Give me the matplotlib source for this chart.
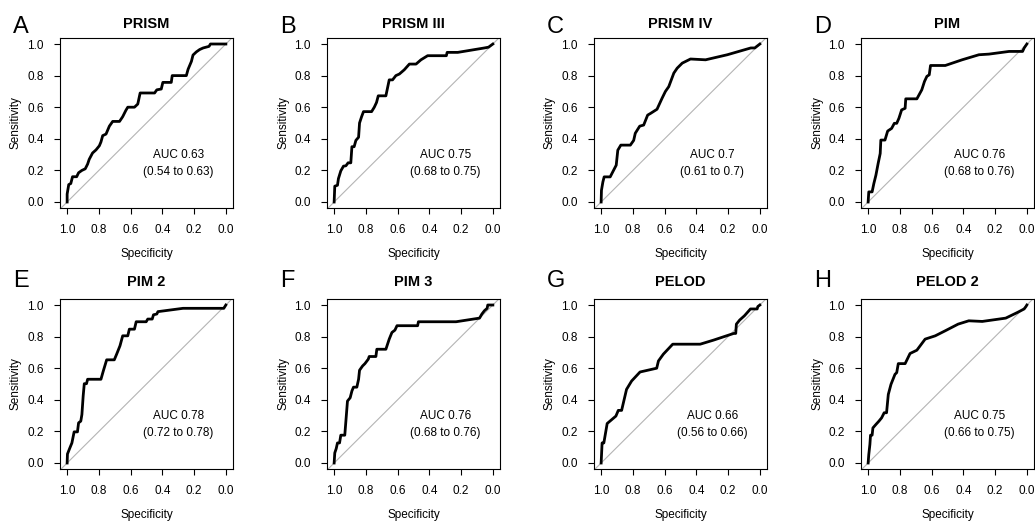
import matplotlib
matplotlib.use("Agg")
from matplotlib import pyplot as plt

plt.rcParams['font.family'] = ['Liberation Sans', 'DejaVu Sans']

# ---- data (specificity, sensitivity) ----
spec_A = [1.0, 1.0, 0.99, 0.977, 0.966, 0.94, 0.928, 0.907, 0.886, 0.871, 0.861, 0.84, 0.818, 0.797,
          0.787, 0.776, 0.755, 0.734, 0.713, 0.67, 0.65, 0.63, 0.618, 0.576, 0.555, 0.54, 0.449, 0.435,
          0.407, 0.397, 0.344, 0.338, 0.249, 0.238, 0.217, 0.207, 0.186, 0.165, 0.143, 0.106, 0.097, 0.0]
sens_A = [0.0, 0.05, 0.11, 0.117, 0.16, 0.16, 0.185, 0.20, 0.21, 0.24, 0.27, 0.31, 0.33, 0.356,
          0.38, 0.42, 0.43, 0.48, 0.51, 0.51, 0.54, 0.58, 0.60, 0.60, 0.62, 0.69, 0.69, 0.71,
          0.715, 0.757, 0.757, 0.80, 0.80, 0.84, 0.89, 0.93, 0.95, 0.965, 0.975, 0.985, 1.0, 1.0]

spec_B = [1.0, 0.996, 0.979, 0.973, 0.958, 0.941, 0.926, 0.912, 0.895, 0.888, 0.874, 0.863, 0.846,
          0.84, 0.827, 0.815, 0.764, 0.747, 0.733, 0.722, 0.674, 0.653, 0.632, 0.611, 0.589, 0.558,
          0.526, 0.484, 0.453, 0.411, 0.293, 0.288, 0.221, 0.053, 0.027, 0.0]
sens_B = [0.0, 0.10, 0.106, 0.148, 0.197, 0.227, 0.229, 0.248, 0.248, 0.35, 0.35, 0.39, 0.41,
          0.50, 0.54, 0.572, 0.572, 0.60, 0.63, 0.672, 0.672, 0.773, 0.773, 0.80, 0.81, 0.837,
          0.873, 0.873, 0.90, 0.926, 0.926, 0.947, 0.947, 0.975, 0.98, 1.0]

spec_C = [1.0, 0.998, 0.989, 0.981, 0.943, 0.922, 0.905, 0.895, 0.876, 0.816, 0.795, 0.785, 0.757,
          0.732, 0.707, 0.69, 0.648, 0.616, 0.595, 0.574, 0.542, 0.521, 0.489, 0.437, 0.342, 0.205,
          0.057, 0.032, 0.0]
sens_C = [0.0, 0.074, 0.127, 0.159, 0.159, 0.20, 0.233, 0.328, 0.36, 0.36, 0.39, 0.435, 0.48,
          0.487, 0.55, 0.56, 0.587, 0.657, 0.70, 0.73, 0.816, 0.847, 0.879, 0.905, 0.90, 0.932,
          0.975, 0.975, 1.0]

spec_D = [1.0, 0.996, 0.975, 0.964, 0.951, 0.937, 0.924, 0.92, 0.894, 0.877, 0.852, 0.835, 0.82,
          0.806, 0.789, 0.767, 0.763, 0.693, 0.662, 0.645, 0.63, 0.615, 0.607, 0.514, 0.408, 0.302,
          0.239, 0.112, 0.027, 0.017, 0.0]
sens_D = [0.0, 0.064, 0.064, 0.117, 0.17, 0.244, 0.307, 0.392, 0.392, 0.449, 0.466, 0.498, 0.498,
          0.53, 0.583, 0.593, 0.653, 0.653, 0.71, 0.763, 0.795, 0.805, 0.864, 0.864, 0.90, 0.932,
          0.936, 0.953, 0.953, 0.975, 1.0]

spec_E = [1.0, 0.998, 0.983, 0.97, 0.956, 0.935, 0.928, 0.914, 0.907, 0.899, 0.892, 0.878, 0.871,
          0.787, 0.772, 0.751, 0.703, 0.688, 0.667, 0.65, 0.618, 0.608, 0.576, 0.565, 0.502, 0.492,
          0.464, 0.456, 0.435, 0.428, 0.27, 0.013, 0.0]
sens_E = [0.0, 0.057, 0.095, 0.127, 0.197, 0.197, 0.254, 0.265, 0.307, 0.424, 0.502, 0.502, 0.53,
          0.53, 0.583, 0.653, 0.653, 0.689, 0.742, 0.805, 0.805, 0.847, 0.847, 0.894, 0.894, 0.911,
          0.911, 0.938, 0.943, 0.958, 0.979, 0.979, 1.0]

spec_F = [1.0, 0.996, 0.987, 0.979, 0.966, 0.958, 0.933, 0.926, 0.916, 0.899, 0.888, 0.878, 0.857,
          0.846, 0.84, 0.821, 0.806, 0.785, 0.779, 0.737, 0.731, 0.674, 0.653, 0.636, 0.617, 0.604,
          0.474, 0.469, 0.232, 0.084, 0.069, 0.053, 0.036, 0.032, 0.0]
sens_F = [0.0, 0.064, 0.091, 0.127, 0.127, 0.176, 0.176, 0.265, 0.392, 0.413, 0.456, 0.48, 0.48,
          0.53, 0.587, 0.614, 0.629, 0.657, 0.674, 0.674, 0.72, 0.72, 0.784, 0.826, 0.841, 0.869,
          0.869, 0.894, 0.894, 0.917, 0.943, 0.964, 0.979, 1.0, 1.0]

spec_G = [1.0, 0.994, 0.983, 0.962, 0.907, 0.892, 0.871, 0.84, 0.808, 0.755, 0.65, 0.639, 0.608,
          0.549, 0.376, 0.291, 0.165, 0.152, 0.148, 0.127, 0.097, 0.059, 0.017, 0.013, 0.0]
sens_G = [0.0, 0.127, 0.127, 0.25, 0.297, 0.333, 0.333, 0.466, 0.519, 0.576, 0.60, 0.646, 0.689,
          0.752, 0.752, 0.778, 0.82, 0.82, 0.879, 0.905, 0.932, 0.975, 0.975, 0.99, 1.0]

spec_H = [1.0, 0.996, 0.989, 0.985, 0.975, 0.97, 0.951, 0.932, 0.915, 0.899, 0.884, 0.873, 0.856,
          0.831, 0.82, 0.81, 0.767, 0.736, 0.693, 0.641, 0.577, 0.514, 0.433, 0.366, 0.281, 0.133,
          0.059, 0.017, 0.006, 0.0]
sens_H = [0.0, 0.053, 0.117, 0.176, 0.176, 0.222, 0.244, 0.265, 0.286, 0.318, 0.318, 0.434, 0.498,
          0.561, 0.572, 0.629, 0.629, 0.693, 0.714, 0.784, 0.805, 0.837, 0.879, 0.90, 0.896, 0.917,
          0.953, 0.975, 0.99, 1.0]

letters = ['A', 'B', 'C', 'D', 'E', 'F', 'G', 'H']
titles = ['PRISM', 'PRISM III', 'PRISM IV', 'PIM', 'PIM 2', 'PIM 3', 'PELOD', 'PELOD 2']
auc_text = ['AUC 0.63', 'AUC 0.75', 'AUC 0.7', 'AUC 0.76', 'AUC 0.78', 'AUC 0.76', 'AUC 0.66', 'AUC 0.75']
ci_text = ['(0.54 to 0.63)', '(0.68 to 0.75)', '(0.61 to 0.7)', '(0.68 to 0.76)',
           '(0.72 to 0.78)', '(0.68 to 0.76)', '(0.56 to 0.66)', '(0.66 to 0.75)']
specs = [spec_A, spec_B, spec_C, spec_D, spec_E, spec_F, spec_G, spec_H]
senss = [sens_A, sens_B, sens_C, sens_D, sens_E, sens_F, sens_G, sens_H]
ticks = [0.0, 0.2, 0.4, 0.6, 0.8, 1.0]

# ---- layout in pixels ----
W, H = 1035, 523
lefts = [60, 327, 594, 861]
tops = [38, 299]
bw, bh = 173, 170
letter_base = [33, 287]
title_base = [28, 286]
fs = 8.5

fig = plt.figure(figsize=(W / 100, H / 100), dpi=100)

for i in range(8):
    r, c = divmod(i, 4)
    l, t = lefts[c], tops[r]
    ax = fig.add_axes([l / W, 1 - (t + bh) / H, bw / W, bh / H])
    ax.axline((1, 0), (0, 1), color='#b4b4b4', linewidth=0.8, zorder=1)
    ax.plot(specs[i], senss[i], color='black', linewidth=2, zorder=2)
    ax.set_xlim(1.045, -0.045)
    ax.set_ylim(-0.038, 1.038)
    ax.set_xticks(ticks[::-1])
    ax.set_yticks(ticks)
    ax.set_xticklabels(['%.1f' % v for v in ticks[::-1]])
    ax.set_yticklabels(['%.1f' % v for v in ticks])
    ax.tick_params(direction='out', length=4.3, width=0.8, labelsize=fs, pad=7.5)
    for s in ax.spines.values():
        s.set_linewidth(0.8)
    ax.set_xlabel('Specificity', fontsize=fs, va='center')
    ax.xaxis.set_label_coords(0.5, -46 / bh)
    ax.set_ylabel('Sensitivity', fontsize=fs, va='center')
    ax.yaxis.set_label_coords(-44 / bw, 0.5)
    ax.text(0.3, 0.30, auc_text[i], fontsize=fs, ha='center', va='center')
    ax.text(0.3, 0.19, ci_text[i], fontsize=fs, ha='center', va='center')

    fig.text((l + bw / 2) / W, 1 - title_base[r] / H, titles[i], fontsize=10.5,
             fontweight='bold', ha='center', va='baseline')
    fig.text((l - 47) / W, 1 - letter_base[r] / H, letters[i], fontsize=17,
             ha='left', va='baseline')

fig.savefig('out.png', dpi=100)
